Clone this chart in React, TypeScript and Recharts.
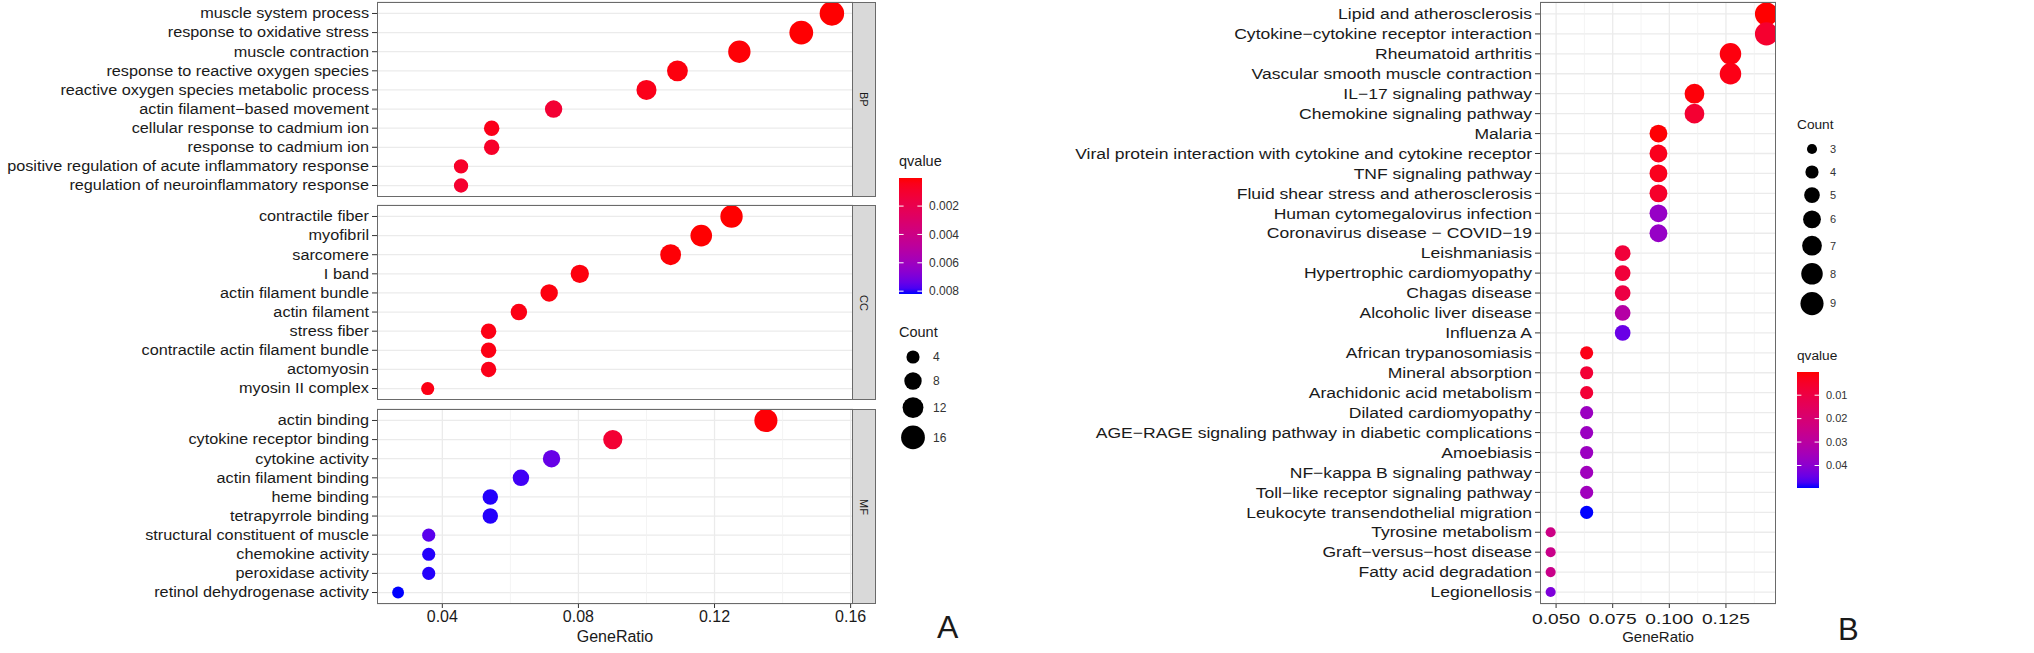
import React from "react"
import { ScatterChart, Scatter, XAxis, YAxis, ZAxis, CartesianGrid, Cell } from "recharts"

const FONT = '"Liberation Sans", Arial, Helvetica, sans-serif'

// ---------- panel A: GO terms ----------
const bpTerms = [
  "muscle system process",
  "response to oxidative stress",
  "muscle contraction",
  "response to reactive oxygen species",
  "reactive oxygen species metabolic process",
  "actin filament−based movement",
  "cellular response to cadmium ion",
  "response to cadmium ion",
  "positive regulation of acute inflammatory response",
  "regulation of neuroinflammatory response",
]
const bpRatio = [0.1545, 0.1455, 0.1273, 0.1091, 0.1, 0.0727, 0.0545, 0.0545, 0.0455, 0.0455]
const bpCount = [17, 16, 14, 12, 11, 8, 6, 6, 5, 5]
const bpQ = [0.00003, 0.00004, 0.0001, 0.0002, 0.0004, 0.0011, 0.0004, 0.0008, 0.0008, 0.001]

const ccTerms = [
  "contractile fiber",
  "myofibril",
  "sarcomere",
  "I band",
  "actin filament bundle",
  "actin filament",
  "stress fiber",
  "contractile actin filament bundle",
  "actomyosin",
  "myosin II complex",
]
const ccRatio = [0.125, 0.1161, 0.1071, 0.0804, 0.0714, 0.0625, 0.0536, 0.0536, 0.0536, 0.0357]
const ccCount = [14, 13, 12, 9, 8, 7, 6, 6, 6, 4]
const ccQ = [0.00002, 0.00003, 0.0001, 0.0002, 0.0002, 0.0003, 0.0003, 0.0003, 0.0004, 0.0003]

const mfTerms = [
  "actin binding",
  "cytokine receptor binding",
  "cytokine activity",
  "actin filament binding",
  "heme binding",
  "tetrapyrrole binding",
  "structural constituent of muscle",
  "chemokine activity",
  "peroxidase activity",
  "retinol dehydrogenase activity",
]
const mfRatio = [0.1351, 0.0901, 0.0721, 0.0631, 0.0541, 0.0541, 0.036, 0.036, 0.036, 0.027]
const mfCount = [15, 10, 8, 7, 6, 6, 4, 4, 4, 3]
const mfQ = [0.0001, 0.0011, 0.0074, 0.0079, 0.0081, 0.0081, 0.0076, 0.0081, 0.0081, 0.0082]

const aXTicks = [0.04, 0.08, 0.12, 0.16]
const aXTickLabels = ["0.04", "0.08", "0.12", "0.16"]
const aXMinor = [0.06, 0.1, 0.14]
const aQTicks = [0.002, 0.004, 0.006, 0.008]
const aQTickLabels = ["0.002", "0.004", "0.006", "0.008"]
const aCountKeys = [4, 8, 12, 16]

// ---------- panel B: KEGG pathways ----------
const keggTerms = [
  "Lipid and atherosclerosis",
  "Cytokine−cytokine receptor interaction",
  "Rheumatoid arthritis",
  "Vascular smooth muscle contraction",
  "IL−17 signaling pathway",
  "Chemokine signaling pathway",
  "Malaria",
  "Viral protein interaction with cytokine and cytokine receptor",
  "TNF signaling pathway",
  "Fluid shear stress and atherosclerosis",
  "Human cytomegalovirus infection",
  "Coronavirus disease − COVID−19",
  "Leishmaniasis",
  "Hypertrophic cardiomyopathy",
  "Chagas disease",
  "Alcoholic liver disease",
  "Influenza A",
  "African trypanosomiasis",
  "Mineral absorption",
  "Arachidonic acid metabolism",
  "Dilated cardiomyopathy",
  "AGE−RAGE signaling pathway in diabetic complications",
  "Amoebiasis",
  "NF−kappa B signaling pathway",
  "Toll−like receptor signaling pathway",
  "Leukocyte transendothelial migration",
  "Tyrosine metabolism",
  "Graft−versus−host disease",
  "Fatty acid degradation",
  "Legionellosis",
]
const keggRatio = [
  0.1429, 0.1429, 0.127, 0.127, 0.1111, 0.1111,
  0.0952, 0.0952, 0.0952, 0.0952, 0.0952, 0.0952,
  0.0794, 0.0794, 0.0794, 0.0794, 0.0794,
  0.0635, 0.0635, 0.0635, 0.0635, 0.0635, 0.0635, 0.0635, 0.0635, 0.0635,
  0.0476, 0.0476, 0.0476, 0.0476,
]
const keggCount = [9, 9, 8, 8, 7, 7, 6, 6, 6, 6, 6, 6, 5, 5, 5, 5, 5, 4, 4, 4, 4, 4, 4, 4, 4, 4, 3, 3, 3, 3]
const keggQ = [
  0.0001, 0.006, 0.0012, 0.002, 0.0008, 0.0065,
  0.0004, 0.003, 0.003, 0.005, 0.038, 0.038,
  0.008, 0.008, 0.01, 0.031, 0.0445,
  0.002, 0.007, 0.007, 0.037, 0.037, 0.037, 0.036, 0.036, 0.0496,
  0.024, 0.025, 0.025, 0.042,
]

const bXTicks = [0.05, 0.075, 0.1, 0.125]
const bXTickLabels = ["0.050", "0.075", "0.100", "0.125"]
const bXMinor = [0.0625, 0.0875, 0.1125, 0.1375]
const bQTicks = [0.01, 0.02, 0.03, 0.04]
const bQTickLabels = ["0.01", "0.02", "0.03", "0.04"]
const bCountKeys = [3, 4, 5, 6, 7, 8, 9]

// ---------- colour: red -> blue, interpolated in CIELAB like ggplot ----------
const toLin = (c: number) => {
  const v = c / 255
  return v <= 0.04045 ? v / 12.92 : Math.pow((v + 0.055) / 1.055, 2.4)
}
const fLab = (t: number) => (t > 0.008856 ? Math.cbrt(t) : 7.787 * t + 16 / 116)
const fInv = (t: number) => (t * t * t > 0.008856 ? t * t * t : (t - 16 / 116) / 7.787)

function rgbToLab(r: number, g: number, b: number) {
  const R = toLin(r), G = toLin(g), B = toLin(b)
  const X = (0.4124 * R + 0.3576 * G + 0.1805 * B) / 0.95047
  const Y = 0.2126 * R + 0.7152 * G + 0.0722 * B
  const Z = (0.0193 * R + 0.1192 * G + 0.9505 * B) / 1.08883
  const fx = fLab(X), fy = fLab(Y), fz = fLab(Z)
  return [116 * fy - 16, 500 * (fx - fy), 200 * (fy - fz)]
}

function labToHex(L: number, a: number, b: number) {
  const fy = (L + 16) / 116
  const X = 0.95047 * fInv(fy + a / 500)
  const Y = fInv(fy)
  const Z = 1.08883 * fInv(fy - b / 200)
  const lin = [
    3.2406 * X - 1.5372 * Y - 0.4986 * Z,
    -0.9689 * X + 1.8758 * Y + 0.0415 * Z,
    0.0557 * X - 0.204 * Y + 1.057 * Z,
  ]
  return (
    "#" +
    lin
      .map((c) => {
        const v = c <= 0.0031308 ? 12.92 * c : 1.055 * Math.pow(Math.max(c, 0), 1 / 2.4) - 0.055
        const n = Math.round(Math.min(1, Math.max(0, v)) * 255)
        return n.toString(16).padStart(2, "0")
      })
      .join("")
  )
}

const LOW = rgbToLab(255, 0, 0)
const HIGH = rgbToLab(0, 0, 255)
function ramp(t: number) {
  const k = Math.min(1, Math.max(0, t))
  return labToHex(LOW[0] + (HIGH[0] - LOW[0]) * k, LOW[1] + (HIGH[1] - LOW[1]) * k, LOW[2] + (HIGH[2] - LOW[2]) * k)
}

// ---------- one dot-plot panel ----------
interface PanelProps {
  terms: string[]
  ratios: number[]
  counts: number[]
  qvals: number[]
  qDomain: [number, number]
  width: number
  height: number
  marginTop: number
  marginRight: number
  yAxisWidth: number
  xDomain: [number, number]
  xTicks: number[]
  xTickLabels: string[]
  xMinor: number[]
  showX: boolean
  zDomain: [number, number]
  zRange: [number, number]
  yFont: number
  yStretch: number
  xFont: number
  xStretch: number
  xTickMargin: number
  titleFont: number
}

function DotPanel(p: PanelProps) {
  const n = p.terms.length
  const rows = p.terms.map((term, i) => ({
    term,
    ratio: p.ratios[i],
    count: p.counts[i],
    q: p.qvals[i],
    pos: n - i,
  }))
  const yTicks = rows.map((r) => r.pos)

  // eslint-disable-next-line @typescript-eslint/no-explicit-any
  const yTick = (props: any) => {
    const { x, y, payload } = props
    return (
      <text
        transform={`translate(${x},${y}) scale(${p.yStretch},1)`}
        textAnchor="end"
        dy="0.35em"
        fontSize={p.yFont}
        fill="#1a1a1a"
        fontFamily={FONT}
      >
        {p.terms[n - payload.value]}
      </text>
    )
  }

  // eslint-disable-next-line @typescript-eslint/no-explicit-any
  const xTick = (props: any) => {
    const { x, y, payload } = props
    const idx = p.xTicks.indexOf(payload.value)
    return (
      <text
        transform={`translate(${x},${y}) scale(${p.xStretch},1)`}
        textAnchor="middle"
        dy="0.72em"
        fontSize={p.xFont}
        fill="#1a1a1a"
        fontFamily={FONT}
      >
        {p.xTickLabels[idx]}
      </text>
    )
  }

  return (
    <ScatterChart
      width={p.width}
      height={p.height}
      margin={{ top: p.marginTop, right: p.marginRight, bottom: 0, left: 0 }}
    >
      <CartesianGrid stroke="#ebebeb" strokeWidth={1.3} verticalValues={p.xTicks} />
      <CartesianGrid stroke="#f1f1f1" strokeWidth={0.8} horizontal={false} verticalValues={p.xMinor} />
      <XAxis
        type="number"
        dataKey="ratio"
        domain={p.xDomain}
        allowDataOverflow
        ticks={p.xTicks}
        interval={0}
        height={p.showX ? 42 : 0}
        axisLine={false}
        tickSize={4}
        tickMargin={p.xTickMargin}
        tickLine={p.showX ? { stroke: "#333" } : false}
        tick={p.showX ? xTick : false}
        label={
          p.showX
            ? { value: "GeneRatio", position: "insideBottom", offset: 4, fontSize: p.titleFont, fill: "#1a1a1a", fontFamily: FONT }
            : undefined
        }
      />
      <YAxis
        type="number"
        dataKey="pos"
        domain={[0.4, n + 0.6]}
        allowDataOverflow
        ticks={yTicks}
        interval={0}
        width={p.yAxisWidth}
        axisLine={false}
        tickSize={5}
        tickMargin={3}
        tickLine={{ stroke: "#333" }}
        tick={yTick}
      />
      <ZAxis type="number" dataKey="count" domain={p.zDomain} range={p.zRange} />
      <Scatter data={rows} isAnimationActive={false} stroke="none">
        {rows.map((r) => (
          <Cell key={r.term} fill={ramp((r.q - p.qDomain[0]) / (p.qDomain[1] - p.qDomain[0]))} />
        ))}
      </Scatter>
    </ScatterChart>
  )
}

// ---------- legends ----------
function ColorBar(props: {
  id: string
  x: number
  y: number
  w: number
  h: number
  qDomain: [number, number]
  ticks: number[]
  labels: string[]
  titleFont: number
  labelFont: number
}) {
  const { id, x, y, w, h, qDomain, ticks, labels } = props
  const stops = Array.from({ length: 21 }, (_, i) => i / 20)
  const toY = (q: number) => y + ((q - qDomain[0]) / (qDomain[1] - qDomain[0])) * h
  return (
    <g>
      <defs>
        <linearGradient id={id} x1="0" y1="0" x2="0" y2="1">
          {stops.map((t) => (
            <stop key={t} offset={t} stopColor={ramp(t)} />
          ))}
        </linearGradient>
      </defs>
      <text x={x} y={y - 12} fontSize={props.titleFont} fill="#1a1a1a">
        qvalue
      </text>
      <rect x={x} y={y} width={w} height={h} fill={`url(#${id})`} />
      {ticks.map((q, i) => {
        const ty = toY(q)
        return (
          <g key={q}>
            <line x1={x} x2={x + w / 5} y1={ty} y2={ty} stroke="#fff" strokeWidth={1} />
            <line x1={x + w - w / 5} x2={x + w} y1={ty} y2={ty} stroke="#fff" strokeWidth={1} />
            <text x={x + w + 7} y={ty} dy="0.35em" fontSize={props.labelFont} fill="#333">
              {labels[i]}
            </text>
          </g>
        )
      })}
    </g>
  )
}

function SizeKey(props: {
  x: number
  y: number
  cx: number
  labelX: number
  keys: number[]
  zDomain: [number, number]
  zRange: [number, number]
  titleFont: number
  labelFont: number
}) {
  const { zDomain, zRange, keys } = props
  const diam = (c: number) =>
    2 * Math.sqrt((zRange[0] + ((c - zDomain[0]) / (zDomain[1] - zDomain[0])) * (zRange[1] - zRange[0])) / Math.PI)
  const hs = keys.map((c) => Math.max(23, diam(c) + 7.5))
  const centers: number[] = []
  keys.forEach((_, i) => {
    centers.push(i === 0 ? props.y + 20 : centers[i - 1] + (hs[i - 1] + hs[i]) / 2)
  })
  return (
    <g>
      <text x={props.x} y={props.y} fontSize={props.titleFont} fill="#1a1a1a">
        Count
      </text>
      {keys.map((c, i) => (
        <g key={c}>
          <circle cx={props.cx} cy={centers[i]} r={diam(c) / 2} fill="#000" />
          <text x={props.labelX} y={centers[i]} dy="0.35em" fontSize={props.labelFont} fill="#333">
            {c}
          </text>
        </g>
      ))}
    </g>
  )
}

const boxStyle = (left: number, top: number, width: number, height: number): React.CSSProperties => ({
  position: "absolute",
  left,
  top,
  width,
  height,
  border: "1px solid #6a6a6a",
  boxSizing: "border-box",
  pointerEvents: "none",
})

function Strip({ top, label }: { top: number; label: string }) {
  return (
    <div
      style={{
        ...boxStyle(852, top, 24, 195),
        background: "#d9d9d9",
        display: "flex",
        alignItems: "center",
        justifyContent: "center",
      }}
    >
      <span style={{ writingMode: "vertical-rl", fontSize: 11, color: "#1a1a1a" }}>{label}</span>
    </div>
  )
}

export default function App() {
  const aQDomain: [number, number] = [
    Math.min(...bpQ, ...ccQ, ...mfQ),
    Math.max(...bpQ, ...ccQ, ...mfQ),
  ]
  const bQDomain: [number, number] = [Math.min(...keggQ), Math.max(...keggQ)]
  const aZDomain: [number, number] = [3, 17]
  const aZRange: [number, number] = [110, 470]
  const bZDomain: [number, number] = [3, 9]
  const bZRange: [number, number] = [80, 420]

  const aCommon = {
    qDomain: aQDomain,
    width: 885,
    marginTop: 2,
    marginRight: 32,
    yAxisWidth: 377,
    xDomain: [0.0208, 0.1607] as [number, number],
    xTicks: aXTicks,
    xTickLabels: aXTickLabels,
    xMinor: aXMinor,
    zDomain: aZDomain,
    zRange: aZRange,
    yFont: 14,
    yStretch: 1.16,
    xFont: 16,
    xStretch: 1,
    xTickMargin: 2,
    titleFont: 16,
  }

  return (
    <div
      style={{
        position: "absolute",
        left: 0,
        top: 0,
        width: 2034,
        height: 653,
        background: "#fff",
        overflow: "hidden",
        fontFamily: FONT,
      }}
    >
      <div style={{ position: "absolute", left: 0, top: 0 }}>
        <DotPanel {...aCommon} terms={bpTerms} ratios={bpRatio} counts={bpCount} qvals={bpQ} height={197} showX={false} />
      </div>
      <div style={{ position: "absolute", left: 0, top: 203 }}>
        <DotPanel {...aCommon} terms={ccTerms} ratios={ccRatio} counts={ccCount} qvals={ccQ} height={197} showX={false} />
      </div>
      <div style={{ position: "absolute", left: 0, top: 407 }}>
        <DotPanel {...aCommon} terms={mfTerms} ratios={mfRatio} counts={mfCount} qvals={mfQ} height={239} showX />
      </div>
      <div style={boxStyle(377, 2, 476, 195)} />
      <div style={boxStyle(377, 205, 476, 195)} />
      <div style={boxStyle(377, 409, 476, 195)} />
      <Strip top={2} label="BP" />
      <Strip top={205} label="CC" />
      <Strip top={409} label="MF" />

      <div style={{ position: "absolute", left: 1000, top: 0 }}>
        <DotPanel
          terms={keggTerms}
          ratios={keggRatio}
          counts={keggCount}
          qvals={keggQ}
          qDomain={bQDomain}
          width={800}
          height={646}
          marginTop={2}
          marginRight={24}
          yAxisWidth={540}
          xDomain={[0.0429, 0.1471]}
          xTicks={bXTicks}
          xTickLabels={bXTickLabels}
          xMinor={bXMinor}
          showX
          zDomain={bZDomain}
          zRange={bZRange}
          yFont={15}
          yStretch={1.17}
          xFont={15}
          xStretch={1.28}
          xTickMargin={5}
          titleFont={15}
        />
      </div>
      <div style={boxStyle(1540, 2, 236, 602)} />

      <svg
        width={2034}
        height={653}
        style={{ position: "absolute", left: 0, top: 0, pointerEvents: "none", fontFamily: FONT }}
      >
        <ColorBar id="qa" x={899} y={178} w={23} h={116} qDomain={aQDomain} ticks={aQTicks} labels={aQTickLabels} titleFont={14.5} labelFont={12} />
        <SizeKey x={899} y={337} cx={913} labelX={933} keys={aCountKeys} zDomain={aZDomain} zRange={aZRange} titleFont={14.5} labelFont={12} />
        <text x={937} y={638} fontSize={32} fill="#1a1a1a">A</text>

        <SizeKey x={1797} y={129} cx={1812} labelX={1830} keys={bCountKeys} zDomain={bZDomain} zRange={bZRange} titleFont={13.7} labelFont={11} />
        <ColorBar id="qb" x={1797} y={372} w={22} h={116} qDomain={bQDomain} ticks={bQTicks} labels={bQTickLabels} titleFont={13.7} labelFont={11} />
        <text x={1838} y={640} fontSize={31} fill="#1a1a1a">B</text>
      </svg>
    </div>
  )
}
